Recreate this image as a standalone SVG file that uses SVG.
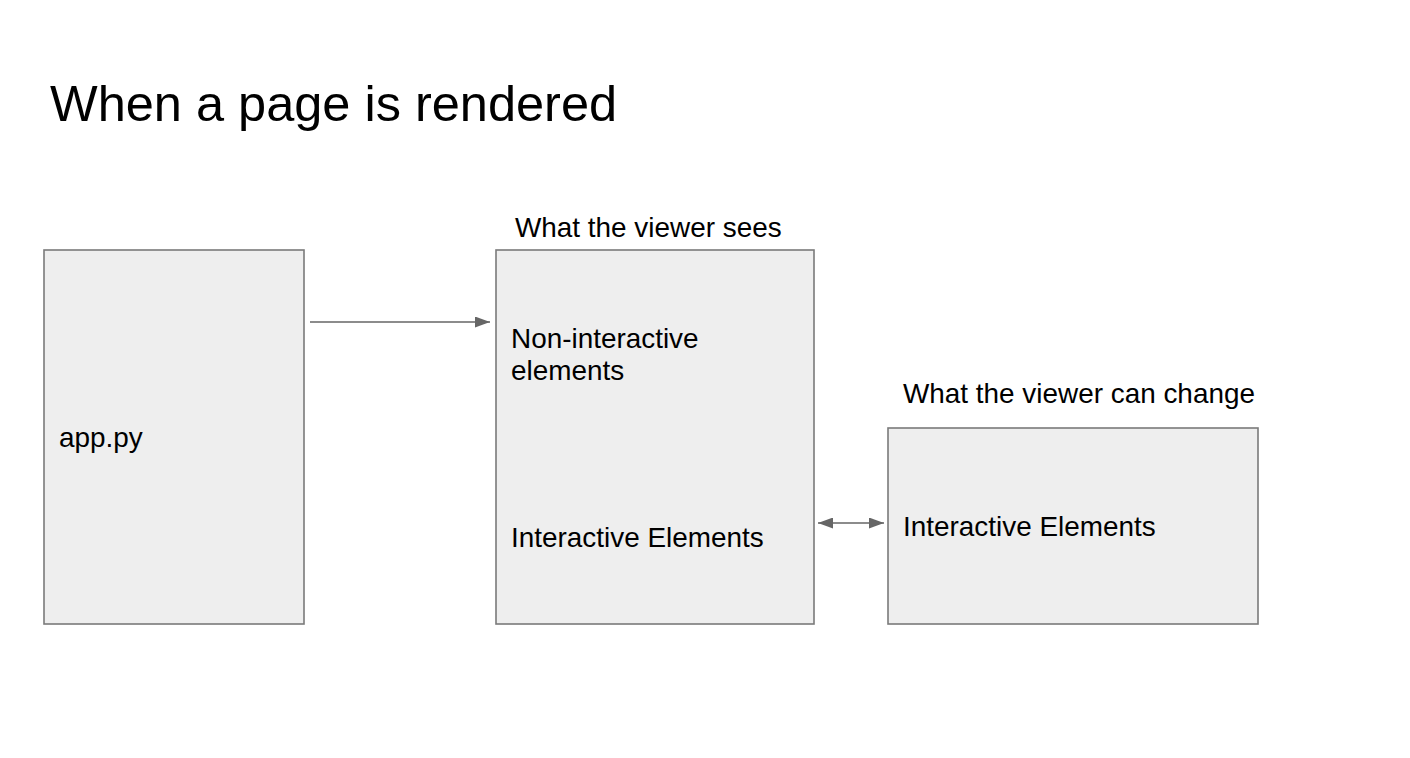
<svg xmlns="http://www.w3.org/2000/svg" width="1410" height="758" viewBox="0 0 1410 758">
<style>
.box{fill:#eeeeee;stroke:#7a7a7a;stroke-width:1.6}
.t{font-family:"Liberation Sans",Arial,sans-serif;font-size:27.9px;fill:#000}
.title{font-family:"Liberation Sans",Arial,sans-serif;font-size:50.5px;fill:#000}
.conn{stroke:#666666;stroke-width:1.6;fill:none}
</style>
<defs>
<marker id="ah2" viewBox="0 0 15 11" refX="15" refY="5.5" markerWidth="15" markerHeight="11" markerUnits="userSpaceOnUse" orient="auto-start-reverse">
<path d="M0,0 L15,5.5 L0,11 z" fill="#666666"/>
</marker>
</defs>
<rect width="1410" height="758" fill="#ffffff"/>
<text class="title" x="50" y="121">When a page is rendered</text>
<g id="app">
<rect class="box" x="44" y="250" width="260" height="374"/>
<text class="t" x="59" y="447">app.py</text>
</g>
<g id="viewer-sees">
<text class="t" x="515" y="237">What the viewer sees</text>
<rect class="box" x="496" y="250" width="318" height="374"/>
<text class="t" x="511" y="348">Non-interactive</text>
<text class="t" x="511" y="380">elements</text>
<text class="t" x="511" y="547">Interactive Elements</text>
</g>
<g id="viewer-change">
<text class="t" x="903" y="403">What the viewer can change</text>
<rect class="box" x="888" y="428" width="370" height="196"/>
<text class="t" x="903" y="536">Interactive Elements</text>
</g>
<g id="connectors">
<line class="conn" x1="310" y1="322" x2="490" y2="322" marker-end="url(#ah2)"/>
<line class="conn" x1="818" y1="523" x2="884" y2="523" marker-start="url(#ah2)" marker-end="url(#ah2)"/>
</g>
</svg>
